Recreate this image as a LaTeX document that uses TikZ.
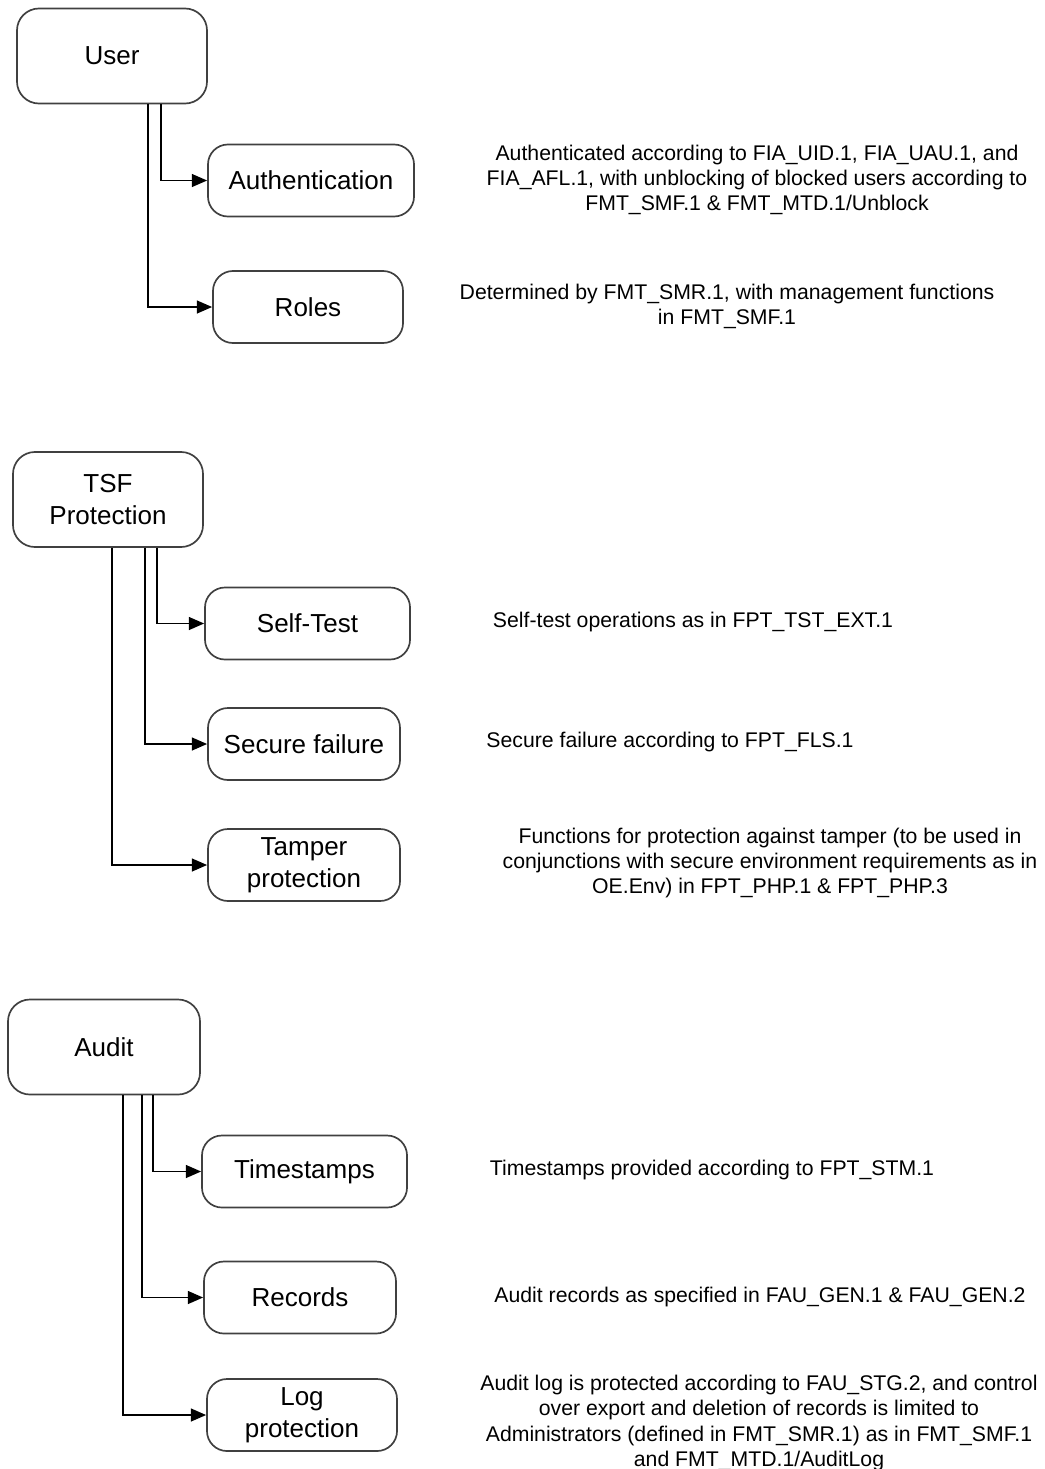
\documentclass[tikz,border=0pt]{standalone}
\usepackage{fontspec}
\setmainfont{Liberation Sans}
\usetikzlibrary{positioning,arrows.meta}
\tikzset{
  mainbox/.style={draw=black!75, line width=1.2pt, rounded corners=5.5mm, minimum width=4.75cm, minimum height=2.375cm, align=center, font=\fontsize{18.5}{22.7}\selectfont},
  subbox/.style={draw=black!75, line width=1.2pt, rounded corners=5mm, minimum height=1.8cm, align=center, font=\fontsize{18.5}{22.7}\selectfont},
  desc/.style={align=center, font=\fontsize{15.1}{17.9}\selectfont},
  fwd/.style={-{Triangle[length=3.8mm,width=3.2mm]}, line width=1.2pt},
}

\begin{document}
\begin{tikzpicture}[x=0.025cm,y=-0.025cm]
\useasboundingbox (0,0) rectangle (1045,1469);

%Nodes
\node[mainbox] (user) at (112,56) {User};
\node[subbox, minimum width=5.15cm] (auth) at (311,180.5) {Authentication};
\node[subbox, minimum width=4.75cm] (roles) at (308,307) {Roles};

\node[mainbox] (tsf) at (108,499.5) {TSF\\Protection};
\node[subbox, minimum width=5.125cm] (selftest) at (307.5,623.5) {Self-Test};
\node[subbox, minimum width=4.8cm] (failure) at (304,744) {Secure failure};
\node[subbox, minimum width=4.8cm] (tamper) at (304,865) {Tamper\\protection};

\node[mainbox, minimum width=4.8cm] (audit) at (104,1047) {Audit};
\node[subbox, minimum width=5.125cm] (stamps) at (304.5,1171.5) {Timestamps};
\node[subbox, minimum width=4.8cm] (records) at (300,1297.5) {Records};
\node[subbox, minimum width=4.75cm] (logprot) at (302,1415) {Log\\protection};

%Texts
\node[desc] (authtext) at (757,180) {Authenticated according to FIA\_UID.1, FIA\_UAU.1, and\\FIA\_AFL.1, with unblocking of blocked users according to\\FMT\_SMF.1 \& FMT\_MTD.1/Unblock};
\node[desc] (rolestext) at (727,306) {Determined by FMT\_SMR.1, with management functions\\in FMT\_SMF.1};
\node[desc] (selftesttext) at (693,622) {Self-test operations as in FPT\_TST\_EXT.1};
\node[desc] (failuretext) at (670,742) {Secure failure according to FPT\_FLS.1};
\node[desc] (tampertext) at (770,863) {Functions for protection against tamper (to be used in\\conjunctions with secure environment requirements as in\\OE.Env) in FPT\_PHP.1 \& FPT\_PHP.3};
\node[desc] (stampstext) at (712,1170) {Timestamps provided according to FPT\_STM.1};
\node[desc] (recordstext) at (760,1297) {Audit records as specified in FAU\_GEN.1 \& FAU\_GEN.2};
\node[desc] (logtext) at (759,1423) {Audit log is protected according to FAU\_STG.2, and control\\over export and deletion of records is limited to\\Administrators (defined in FMT\_SMR.1) as in FMT\_SMF.1\\and FMT\_MTD.1/AuditLog};

%Lines
\draw[fwd] ([xshift=1.225cm]user.south) |- (auth.west);
\draw[fwd] ([xshift=0.9cm]user.south) |- (roles.west);

\draw[fwd] ([xshift=1.225cm]tsf.south) |- (selftest.west);
\draw[fwd] ([xshift=0.925cm]tsf.south) |- (failure.west);
\draw[fwd] ([xshift=0.1cm]tsf.south) |- (tamper.west);

\draw[fwd] ([xshift=1.225cm]audit.south) |- (stamps.west);
\draw[fwd] ([xshift=0.95cm]audit.south) |- (records.west);
\draw[fwd] ([xshift=0.475cm]audit.south) |- (logprot.west);
\end{tikzpicture}
\end{document}
